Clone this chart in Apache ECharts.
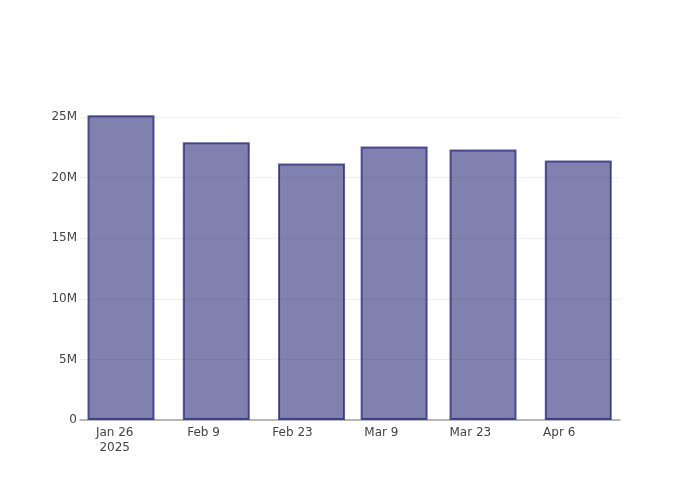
<!DOCTYPE html>
<html>
<head>
<meta charset="utf-8">
<script src="https://cdn.jsdelivr.net/npm/echarts@6/dist/echarts.min.js"></script>
<style>html,body{margin:0;padding:0;background:#fff}#c{width:700px;height:500px}</style>
</head>
<body>
<div id="c"></div>
<script>
const dates = ['2025-01-27', '2025-02-11', '2025-02-26', '2025-03-11', '2025-03-25', '2025-04-09'];
const values = [25150000, 22920000, 21160000, 22570000, 22320000, 21410000];
const tickDates = ['2025-01-26', '2025-02-09', '2025-02-23', '2025-03-09', '2025-03-23', '2025-04-06'];
const yTicks = [0, 5000000, 10000000, 15000000, 20000000, 25000000];

const ts = s => { const [y, m, d] = s.split('-').map(Number); return Date.UTC(y, m - 1, d); };
const DAY = 86400000;
const months = ['Jan','Feb','Mar','Apr','May','Jun','Jul','Aug','Sep','Oct','Nov','Dec'];
const tickVals = tickDates.map(ts);
const FONT = 'DejaVu Sans';

const chart = echarts.init(document.getElementById('c'), null, { renderer: 'canvas' });
chart.setOption({
  animation: false,
  backgroundColor: '#fff',
  textStyle: { fontFamily: FONT },
  grid: { left: 80, right: 80, top: 100, bottom: 80, containLabel: false },
  xAxis: {
    type: 'value',
    min: ts('2025-01-26') - 5.46 * DAY,
    max: ts('2025-01-26') + 79.57 * DAY,
    axisLine: { show: true, lineStyle: { color: '#a0a0a0', width: 1.5 } },
    axisTick: { show: false },
    splitLine: { show: false },
    axisLabel: {
      customValues: tickVals,
      color: '#444', fontSize: 12, fontFamily: FONT, margin: 5, lineHeight: 15,
      formatter: v => {
        const d = new Date(v);
        const s = months[d.getUTCMonth()] + ' ' + d.getUTCDate();
        return v === tickVals[0] ? s + '\n' + d.getUTCFullYear() : s;
      }
    }
  },
  yAxis: {
    type: 'value',
    min: 0,
    max: 26410000,
    interval: 5000000,
    axisLine: { show: false },
    axisTick: { show: false },
    splitLine: { show: true, showMaxLine: false, showMinLine: false, lineStyle: { color: '#eeeeee', width: 1 } },
    axisLabel: {
      showMaxLabel: false,
      color: '#444', fontSize: 12, fontFamily: FONT, margin: 3,
      formatter: v => v === 0 ? '0' : (v / 1e6) + 'M'
    }
  },
  series: [{
    type: 'bar',
    data: dates.map((d, i) => [ts(d), values[i]]),
    barWidth: 67,
    itemStyle: {
      color: 'rgba(25,25,112,0.55)',
      borderColor: 'rgba(25,25,112,0.7)',
      borderWidth: 2
    }
  }]
});
</script>
</body>
</html>
